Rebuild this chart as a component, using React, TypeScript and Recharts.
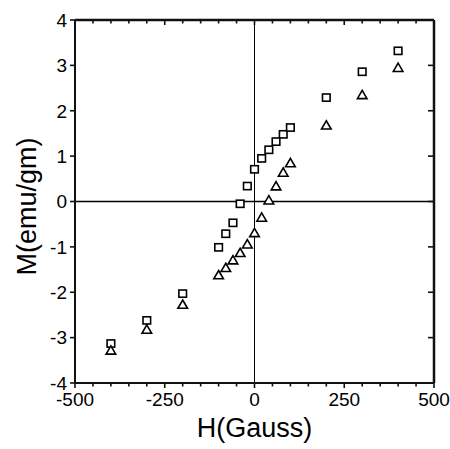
import React from "react";
import {
  ScatterChart,
  Scatter,
  XAxis,
  YAxis,
  ReferenceLine,
} from "recharts";

const fieldH = [-400, -300, -200, -100, -80, -60, -40, -20, 0, 20, 40, 60, 80, 100, 200, 300, 400];
const squareM = [-3.13, -2.62, -2.03, -1.01, -0.71, -0.47, -0.05, 0.34, 0.71, 0.95, 1.14, 1.32, 1.48, 1.63, 2.29, 2.86, 3.32];
const triangleM = [-3.28, -2.82, -2.27, -1.62, -1.46, -1.29, -1.13, -0.94, -0.69, -0.35, 0.03, 0.34, 0.64, 0.85, 1.68, 2.35, 2.95];

const xMajorTicks = [-500, -250, 0, 250, 500];
const xMinorTicks = [
  -500, -450, -400, -350, -300, -250, -200, -150, -100, -50, 0,
  50, 100, 150, 200, 250, 300, 350, 400, 450, 500,
];
const yTicks = [-4, -3, -2, -1, 0, 1, 2, 3, 4];

const xLabel = "H(Gauss)";
const yLabel = "M(emu/gm)";

const squareData = fieldH.map((h, i) => ({ h, m: squareM[i] }));
const triangleData = fieldH.map((h, i) => ({ h, m: triangleM[i] }));

const FONT = "'Liberation Sans', Arial, Helvetica, sans-serif";
const INK = "#000";
const FRAME = "#111";
const X_DOMAIN = [-500, 500];
const Y_DOMAIN = [-4, 4];

const isMajorX = (v: number) => xMajorTicks.includes(v);

const BottomTick = (props: any) => {
  const x = Number(props.x);
  const y = Number(props.y);
  const { payload } = props;
  const major = isMajorX(payload.value);
  return (
    <g>
      <path d={`M${x},${y}L${x},${y + (major ? 5 : 3.5)}`} stroke={FRAME} strokeWidth={1.6} fill="none" />
      {major && (
        <text x={x} y={y + 23} textAnchor="middle" fontSize={19} fontFamily={FONT} fill={INK}>
          {payload.value}
        </text>
      )}
    </g>
  );
};

const TopTick = (props: any) => {
  const x = Number(props.x);
  const y = Number(props.y);
  const major = isMajorX(props.payload.value);
  return <path d={`M${x},${y}L${x},${y + (major ? 5 : 3.5)}`} stroke={FRAME} strokeWidth={1.6} fill="none" />;
};

const LeftTick = (props: any) => {
  const x = Number(props.x);
  const y = Number(props.y);
  const { payload } = props;
  return (
    <g>
      <path d={`M${x - 5},${y}L${x},${y}`} stroke={FRAME} strokeWidth={1.6} fill="none" />
      <text x={x - 8} y={y} dy="0.36em" textAnchor="end" fontSize={19} fontFamily={FONT} fill={INK}>
        {payload.value}
      </text>
    </g>
  );
};

const RightTick = (props: any) => {
  const x = Number(props.x);
  const y = Number(props.y);
  return <path d={`M${x - 6},${y}L${x},${y}`} stroke={FRAME} strokeWidth={1.6} fill="none" />;
};

const SquareShape = (props: any) => {
  const { cx, cy } = props;
  if (cx == null || cy == null) return <g />;
  return (
    <rect x={cx - 3.8} y={cy - 3.6} width={7.6} height={7.2} fill="#fff" stroke={INK} strokeWidth={1.6} />
  );
};

const TriangleShape = (props: any) => {
  const { cx, cy } = props;
  if (cx == null || cy == null) return <g />;
  const pts = `${cx},${cy - 4.5} ${cx + 4.8},${cy + 3.8} ${cx - 4.8},${cy + 3.8}`;
  return <polygon points={pts} fill="#fff" stroke={INK} strokeWidth={1.6} />;
};

const XAxisLabel = (props: any) => {
  const vb = props.viewBox || {};
  return (
    <text x={vb.x + vb.width / 2} y={vb.y + 54} textAnchor="middle" fontSize={27} fontFamily={FONT} fill={INK}>
      {xLabel}
    </text>
  );
};

const YAxisLabel = (props: any) => {
  const vb = props.viewBox || {};
  const cx = 36;
  const cy = vb.y + vb.height / 2 + 5;
  return (
    <text
      x={cx}
      y={cy}
      transform={`rotate(-90, ${cx}, ${cy})`}
      textAnchor="middle"
      fontSize={27}
      fontFamily={FONT}
      fill={INK}
    >
      {yLabel}
    </text>
  );
};

export default function App() {
  return (
    <div style={{ position: "absolute", left: 0, top: 0, width: 450, height: 449, background: "#fff" }}>
      <ScatterChart
        width={450}
        height={449}
        margin={{ top: 19, right: 15, bottom: 0, left: 0 }}
      >
        <XAxis
          xAxisId="bottom"
          dataKey="h"
          type="number"
          domain={X_DOMAIN}
          ticks={xMinorTicks}
          interval={0}
          allowDataOverflow
          orientation="bottom"
          height={66}
          tickSize={0}
          tickMargin={0}
          tickLine={false}
          axisLine={{ stroke: FRAME, strokeWidth: 2 }}
          tick={BottomTick}
          label={XAxisLabel}
        />
        <XAxis
          xAxisId="top"
          dataKey="h"
          type="number"
          domain={X_DOMAIN}
          ticks={xMinorTicks}
          interval={0}
          allowDataOverflow
          orientation="top"
          height={1}
          tickSize={0}
          tickMargin={0}
          tickLine={false}
          axisLine={{ stroke: FRAME, strokeWidth: 2.5 }}
          tick={TopTick}
        />
        <YAxis
          yAxisId="left"
          dataKey="m"
          type="number"
          domain={Y_DOMAIN}
          ticks={yTicks}
          interval={0}
          allowDataOverflow
          orientation="left"
          width={75}
          tickSize={0}
          tickMargin={0}
          tickLine={false}
          axisLine={{ stroke: FRAME, strokeWidth: 2 }}
          tick={LeftTick}
          label={YAxisLabel}
        />
        <YAxis
          yAxisId="right"
          dataKey="m"
          type="number"
          domain={Y_DOMAIN}
          ticks={yTicks}
          interval={0}
          allowDataOverflow
          orientation="right"
          width={1}
          tickSize={0}
          tickMargin={0}
          tickLine={false}
          axisLine={{ stroke: FRAME, strokeWidth: 2.5 }}
          tick={RightTick}
        />
        <ReferenceLine xAxisId="bottom" yAxisId="left" x={0} stroke={INK} strokeWidth={1} />
        <ReferenceLine xAxisId="bottom" yAxisId="left" y={0} stroke={INK} strokeWidth={1.6} />
        <Scatter
          name="squares"
          xAxisId="bottom"
          yAxisId="left"
          data={squareData}
          shape={SquareShape}
          isAnimationActive={false}
        />
        <Scatter
          name="triangles"
          xAxisId="top"
          yAxisId="right"
          data={triangleData}
          shape={TriangleShape}
          isAnimationActive={false}
        />
      </ScatterChart>
    </div>
  );
}
